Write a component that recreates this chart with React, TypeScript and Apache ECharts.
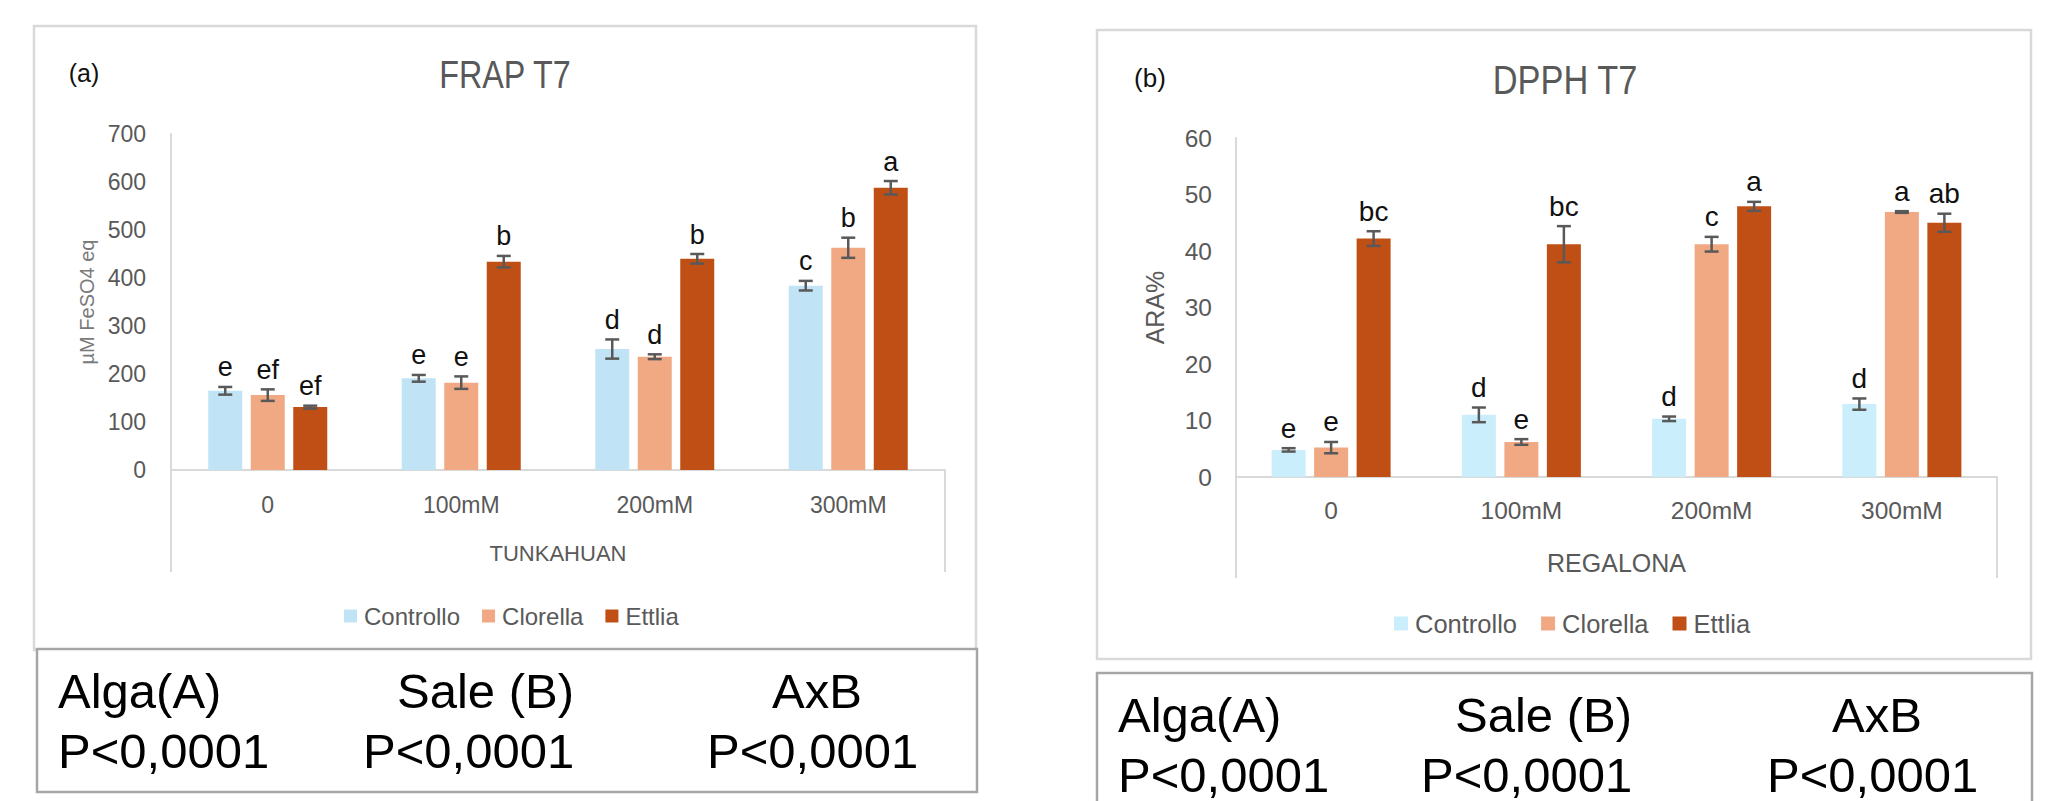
import React, { useEffect, useRef } from "react";
import * as echarts from "echarts";

// ---------- data ----------
const categories = ["0", "100mM", "200mM", "300mM"];
const groupNames = ["Controllo", "Clorella", "Ettlia"];

// Panel (a) FRAP T7 — µM FeSO4 eq
const frapControllo = [165, 191, 252, 384];
const frapClorella = [156, 182, 236, 463];
const frapEttlia = [131, 434, 440, 588];
const frapControlloErr = [8, 7, 20, 10];
const frapClorellaErr = [12, 13, 5, 21];
const frapEttliaErr = [3, 12, 10, 14];
const frapControlloLetters = ["e", "e", "d", "c"];
const frapClorellaLetters = ["ef", "e", "d", "b"];
const frapEttliaLetters = ["ef", "b", "b", "a"];
const frapTicks = [0, 100, 200, 300, 400, 500, 600, 700];

// Panel (b) DPPH T7 — ARA%
const dpphControllo = [4.8, 11.0, 10.3, 12.9];
const dpphClorella = [5.2, 6.2, 41.2, 46.9];
const dpphEttlia = [42.2, 41.2, 47.9, 45.0];
const dpphControlloErr = [0.3, 1.3, 0.4, 1.0];
const dpphClorellaErr = [1.0, 0.5, 1.3, 0.15];
const dpphEttliaErr = [1.3, 3.2, 0.8, 1.6];
const dpphControlloLetters = ["e", "d", "d", "d"];
const dpphClorellaLetters = ["e", "e", "c", "a"];
const dpphEttliaLetters = ["bc", "bc", "a", "ab"];
const dpphTicks = [0, 10, 20, 30, 40, 50, 60];

const statHeaders = ["Alga(A)", "Sale (B)", "AxB"];
const statValues = ["P<0,0001", "P<0,0001", "P<0,0001"];

// ---------- styling ----------
const AXIS = "#d9d9d9";
const GREY = "#595959";
const ERR = "#595959";
const COL_A = ["#C0E4F5", "#F1A983", "#C04F15"];
const COL_B = ["#CAEEFB", "#F1A983", "#C04F15"];
const SANS = "'Liberation Sans', Arial, sans-serif";
const BAR_W = 34;
const BAR_PITCH = 42.5;

const gridA = { left: 171, top: 134, width: 774, height: 336 };
const gridB = { left: 1236, top: 138, width: 761, height: 339 };

function errSeries(
  name: string,
  axisIdx: number,
  vals: number[],
  errs: number[],
  letters: string[],
  slot: number,
  letterSize: number
) {
  return {
    type: "custom",
    name,
    xAxisIndex: axisIdx,
    yAxisIndex: axisIdx,
    z: 5,
    silent: true,
    data: vals.map((v, i) => [i, v, errs[i]]),
    renderItem: (params: any, api: any) => {
      const i = api.value(0);
      const v = api.value(1);
      const e = api.value(2);
      const pTop = api.coord([i, v + e]);
      const pBot = api.coord([i, v - e]);
      const x = pTop[0] + (slot - 1) * BAR_PITCH;
      const cap = 7;
      const ls = { stroke: ERR, lineWidth: 2.5 };
      return {
        type: "group",
        children: [
          { type: "line", shape: { x1: x, y1: pTop[1], x2: x, y2: pBot[1] }, style: ls },
          { type: "line", shape: { x1: x - cap, y1: pTop[1], x2: x + cap, y2: pTop[1] }, style: ls },
          { type: "line", shape: { x1: x - cap, y1: pBot[1], x2: x + cap, y2: pBot[1] }, style: ls },
          {
            type: "text",
            style: {
              text: letters[params.dataIndex],
              x,
              y: pTop[1] - 6,
              align: "center",
              verticalAlign: "bottom",
              textAlign: "center",
              textVerticalAlign: "bottom",
              fontSize: letterSize,
              fontFamily: SANS,
              fill: "#111111",
            },
          },
        ],
      };
    },
  };
}

function barSeries(name: string, axisIdx: number, vals: number[], color: string) {
  return {
    type: "bar",
    name,
    xAxisIndex: axisIdx,
    yAxisIndex: axisIdx,
    barWidth: BAR_W,
    barGap: "25%",
    itemStyle: { color },
    data: vals,
  };
}

function txt(
  text: string,
  x: number,
  y: number,
  size: number,
  fill: string,
  align = "center",
  scaleX = 1
) {
  return {
    type: "text",
    x,
    y,
    scaleX,
    style: {
      text,
      fontSize: size,
      fontFamily: SANS,
      fill,
      align,
      textAlign: align,
      verticalAlign: "middle",
      textVerticalAlign: "middle",
    },
    z: 10,
  };
}

function vline(x: number, y1: number, y2: number, color: string) {
  return { type: "line", shape: { x1: x, y1, x2: x, y2 }, style: { stroke: color, lineWidth: 2 }, z: 1 };
}

export default function App() {
  const ref = useRef<HTMLDivElement>(null);

  useEffect(() => {
    if (!ref.current) return;
    const chart = echarts.init(ref.current, undefined, { renderer: "svg" });

    const aBottom = gridA.top + gridA.height;
    const bBottom = gridB.top + gridB.height;

    const option: any = {
      animation: false,
      backgroundColor: "#ffffff",
      grid: [
        { ...gridA, containLabel: false },
        { ...gridB, containLabel: false },
      ],
      xAxis: [
        {
          type: "category",
          gridIndex: 0,
          data: categories,
          axisLine: { show: true, lineStyle: { color: AXIS, width: 2 } },
          axisTick: { show: false },
          axisLabel: { color: GREY, fontSize: 23, fontFamily: SANS, margin: 23 },
          name: "TUNKAHUAN",
          nameLocation: "middle",
          nameGap: 72,
          nameTextStyle: { color: GREY, fontSize: 22, fontFamily: SANS },
        },
        {
          type: "category",
          gridIndex: 1,
          data: categories,
          axisLine: { show: true, lineStyle: { color: AXIS, width: 2 } },
          axisTick: { show: false },
          axisLabel: { color: GREY, fontSize: 24.5, fontFamily: SANS, margin: 21 },
          name: "REGALONA",
          nameLocation: "middle",
          nameGap: 73,
          nameTextStyle: { color: GREY, fontSize: 25, fontFamily: SANS },
        },
      ],
      yAxis: [
        {
          type: "value",
          gridIndex: 0,
          min: frapTicks[0],
          max: frapTicks[frapTicks.length - 1],
          interval: frapTicks[1] - frapTicks[0],
          axisLine: { show: true, lineStyle: { color: AXIS, width: 2 } },
          axisTick: { show: false },
          splitLine: { show: false },
          axisLabel: { color: GREY, fontSize: 23, fontFamily: SANS, margin: 25 },
          name: "µM FeSO4 eq",
          nameLocation: "middle",
          nameGap: 74,
          nameTextStyle: { color: "#7a7a7a", fontSize: 20, fontFamily: SANS },
        },
        {
          type: "value",
          gridIndex: 1,
          min: dpphTicks[0],
          max: dpphTicks[dpphTicks.length - 1],
          interval: dpphTicks[1] - dpphTicks[0],
          axisLine: { show: true, lineStyle: { color: AXIS, width: 2 } },
          axisTick: { show: false },
          splitLine: { show: false },
          axisLabel: { color: GREY, fontSize: 24.5, fontFamily: SANS, margin: 24 },
          name: "ARA%",
          nameLocation: "middle",
          nameGap: 69,
          nameTextStyle: { color: GREY, fontSize: 25, fontFamily: SANS },
        },
      ],
      legend: [
        {
          left: 339,
          top: 598,
          itemWidth: 13,
          itemHeight: 13,
          itemGap: 22,
          icon: "rect",
          textStyle: { color: GREY, fontSize: 24, fontFamily: SANS, lineHeight: 26, padding: [0, 0, 0, 2] },
          data: groupNames.map((n, k) => ({ name: n, itemStyle: { color: COL_A[k] } })),
          selectedMode: false,
        },
        {
          left: 1389,
          top: 605,
          itemWidth: 14,
          itemHeight: 14,
          itemGap: 24,
          icon: "rect",
          textStyle: { color: GREY, fontSize: 25.5, fontFamily: SANS, lineHeight: 27, padding: [0, 0, 0, 2] },
          data: groupNames.map((n, k) => ({ name: n, itemStyle: { color: COL_B[k] } })),
          selectedMode: false,
        },
      ],
      series: [
        barSeries(groupNames[0], 0, frapControllo, COL_A[0]),
        barSeries(groupNames[1], 0, frapClorella, COL_A[1]),
        barSeries(groupNames[2], 0, frapEttlia, COL_A[2]),
        barSeries(groupNames[0], 1, dpphControllo, COL_B[0]),
        barSeries(groupNames[1], 1, dpphClorella, COL_B[1]),
        barSeries(groupNames[2], 1, dpphEttlia, COL_B[2]),
        errSeries("errA0", 0, frapControllo, frapControlloErr, frapControlloLetters, 0, 27),
        errSeries("errA1", 0, frapClorella, frapClorellaErr, frapClorellaLetters, 1, 27),
        errSeries("errA2", 0, frapEttlia, frapEttliaErr, frapEttliaLetters, 2, 27),
        errSeries("errB0", 1, dpphControllo, dpphControlloErr, dpphControlloLetters, 0, 28),
        errSeries("errB1", 1, dpphClorella, dpphClorellaErr, dpphClorellaLetters, 1, 28),
        errSeries("errB2", 1, dpphEttlia, dpphEttliaErr, dpphEttliaLetters, 2, 28),
      ],
      graphic: [
        // panel frames
        {
          type: "rect",
          shape: { x: 34, y: 26, width: 942, height: 624 },
          style: { fill: "none", stroke: AXIS, lineWidth: 2.5 },
          z: 0,
        },
        {
          type: "rect",
          shape: { x: 1097, y: 30, width: 934, height: 629 },
          style: { fill: "none", stroke: AXIS, lineWidth: 2.5 },
          z: 0,
        },
        // multi-level category axis extensions
        vline(gridA.left, aBottom, aBottom + 102, AXIS),
        vline(gridA.left + gridA.width, aBottom, aBottom + 102, AXIS),
        vline(gridB.left, bBottom, bBottom + 101, AXIS),
        vline(gridB.left + gridB.width, bBottom, bBottom + 101, AXIS),
        // titles & panel tags
        txt("FRAP T7", 505, 75, 38, GREY, "center", 0.85),
        txt("(a)", 84, 73, 25, "#111111"),
        txt("DPPH T7", 1565, 80, 40, GREY, "center", 0.86),
        txt("(b)", 1150, 78, 26, "#111111"),
        // statistics boxes
        {
          type: "rect",
          shape: { x: 37, y: 649, width: 940, height: 143 },
          style: { fill: "#ffffff", stroke: "#a6a6a6", lineWidth: 2.5 },
          z: 8,
        },
        {
          type: "rect",
          shape: { x: 1097, y: 673, width: 935, height: 140 },
          style: { fill: "#ffffff", stroke: "#a6a6a6", lineWidth: 2.5 },
          z: 8,
        },
        txt(statHeaders[0], 58, 691, 49, "#000000", "left"),
        txt(statHeaders[1], 397, 691, 49, "#000000", "left"),
        txt(statHeaders[2], 772, 691, 49, "#000000", "left"),
        txt(statValues[0], 58, 751, 49, "#000000", "left"),
        txt(statValues[1], 363, 751, 49, "#000000", "left"),
        txt(statValues[2], 707, 751, 49, "#000000", "left"),
        txt(statHeaders[0], 1118, 715, 49, "#000000", "left"),
        txt(statHeaders[1], 1455, 715, 49, "#000000", "left"),
        txt(statHeaders[2], 1832, 715, 49, "#000000", "left"),
        txt(statValues[0], 1118, 775, 49, "#000000", "left"),
        txt(statValues[1], 1421, 775, 49, "#000000", "left"),
        txt(statValues[2], 1767, 775, 49, "#000000", "left"),
      ],
    };

    chart.setOption(option);
    return () => chart.dispose();
  }, []);

  return (
    <div
      ref={ref}
      style={{ position: "absolute", left: 0, top: 0, width: 2050, height: 801, background: "#fff" }}
    />
  );
}
